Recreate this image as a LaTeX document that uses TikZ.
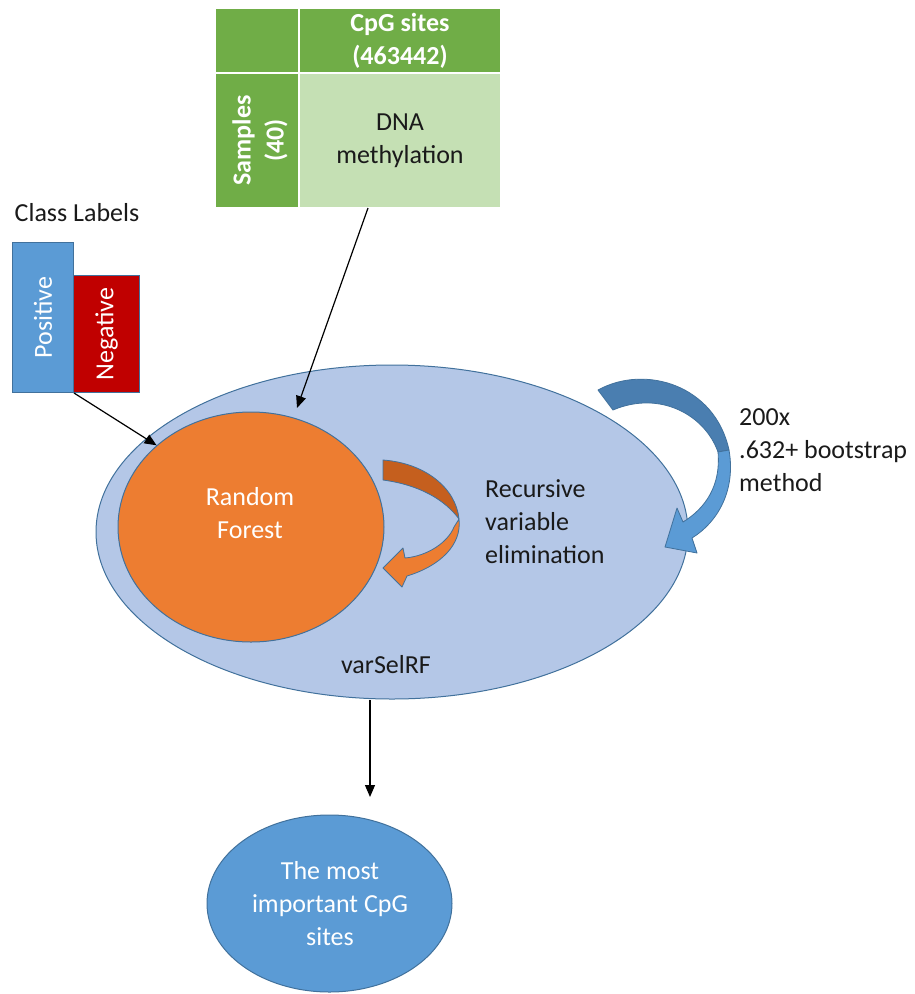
\documentclass[tikz,border=0pt]{standalone}
\usepackage{fontspec}
\setmainfont{Carlito}
\usetikzlibrary{arrows.meta,shapes.geometric}
\definecolor{dkgreen}{HTML}{70AD47}
\definecolor{ltgreen}{HTML}{C5E0B4}
\definecolor{blueA}{HTML}{5B9BD5}
\definecolor{blueB}{HTML}{41719C}
\definecolor{blueC}{HTML}{4A7EB0}
\definecolor{paleblue}{HTML}{B4C7E7}
\definecolor{orangeA}{HTML}{ED7D31}
\definecolor{orangeB}{HTML}{C55F1E}
\definecolor{redA}{HTML}{C00000}
\definecolor{ink}{HTML}{1A1A1A}
\begin{document}
\begin{tikzpicture}[x=1pt,y=-1pt,
  font=\fontsize{26}{33}\selectfont, text=ink,
  cell/.style={draw=white,line width=2pt,inner sep=0pt,align=center},
  darkcell/.style={cell,fill=dkgreen,text=white,font=\fontsize{26}{33}\selectfont\bfseries},
  lightcell/.style={cell,fill=ltgreen},
  classbox/.style={draw=blueB,line width=1pt,inner sep=0pt,anchor=south west},
  blob/.style={ellipse,draw=blueB,line width=1pt,inner sep=0pt},
  plain/.style={inner sep=0pt,align=left},
  flow/.style={draw=black,line width=1.2pt,-{Triangle[length=12pt,width=10pt]}},
  arrowband/.style={draw=blueB,line width=0.8pt,line join=round}]
\useasboundingbox (0,0) rectangle (914,994);

% data matrix
\node[darkcell,minimum width=84pt,minimum height=65pt] (corner) at (257,40.5) {};
\node[darkcell,minimum width=202pt,minimum height=65pt] (sites) at (400,40.5) {CpG sites\\(463442)};
\node[darkcell,minimum width=84pt,minimum height=135pt] (samples) at (257,140.5) {};
\node[text=white,font=\fontsize{26}{33}\selectfont\bfseries,align=center,rotate=90,inner sep=0pt] (samplestxt) at (260,140.5) {Samples\\(40)};
\node[lightcell,minimum width=202pt,minimum height=135pt] (data) at (400,140.5) {DNA\\methylation};

% class labels
\node[plain] (classlbl) at (77,213) {Class Labels};
\node[classbox,fill=blueA,minimum width=61pt,minimum height=150pt] (pos) at (12,393) {};
\node[text=white,rotate=90,inner sep=0pt] (postxt) at (pos.center) {Positive};
\node[classbox,fill=redA,minimum width=66pt,minimum height=117pt] (neg) at (73,393) {};
\node[text=white,rotate=90,inner sep=0pt] (negtxt) at (neg.center) {Negative};

% varSelRF and the random forest inside it
\node[blob,fill=paleblue,minimum width=592pt,minimum height=334pt] (vsrf) at (392,532) {};
\node[blob,fill=orangeA,minimum width=266pt,minimum height=230pt] (rf) at (251,527) {};
\node[text=white,align=center,inner sep=0pt] (rftxt) at (250,513) {Random\\Forest};
\node[plain] (vsrftxt) at (386,665) {varSelRF};
\node[plain,anchor=west] (rvetxt) at (485,522) {Recursive\\variable\\elimination};
\node[plain,anchor=west] (boottxt) at (739,450) {200x\\.632+ bootstrap\\method};

% result
\node[blob,fill=blueA,minimum width=245pt,minimum height=177pt] (result) at (329.5,903.5) {};
\node[text=white,align=center,inner sep=0pt] (resulttxt) at (330,904) {The most\\important CpG\\sites};

% recursive elimination arrow (orange): back face, then front face with head
\fill[orangeB,arrowband] (383,460) .. controls (425,463) and (456,488) .. (459,519)
  .. controls (445,500) and (420,485) .. (383,480) -- cycle;
\fill[orangeA,arrowband] (459,519) .. controls (462,545) and (440,566) .. (407,576)
  -- (402,587) -- (383,568) -- (403,548) -- (405,558)
  .. controls (428,556) and (448,542) .. (454,527) -- cycle;

% bootstrap loop arrow (blue): back face, then front face with head
\fill[blueC,arrowband] (598,390) .. controls (645,364) and (715,385) .. (729,450)
  -- (718,452) .. controls (705,415) and (660,390) .. (613,410) -- cycle;
\fill[blueA,arrowband] (729,450) .. controls (736,490) and (718,522) .. (692,538)
  -- (697,553) -- (665,547) -- (677,508) -- (683,522)
  .. controls (706,508) and (721,485) .. (718,452) -- cycle;

% connectors
\coordinate (dataout) at (368,208);
\coordinate (rfin) at (297,408);
\coordinate (vsrfout) at (370,700);
\coordinate (resultin) at (370,797);
\draw[flow] (dataout) -- (rfin);
\draw[flow] (pos.south east) -- (rf.north west);
\draw[flow] (vsrfout) -- (resultin);
\end{tikzpicture}
\end{document}
